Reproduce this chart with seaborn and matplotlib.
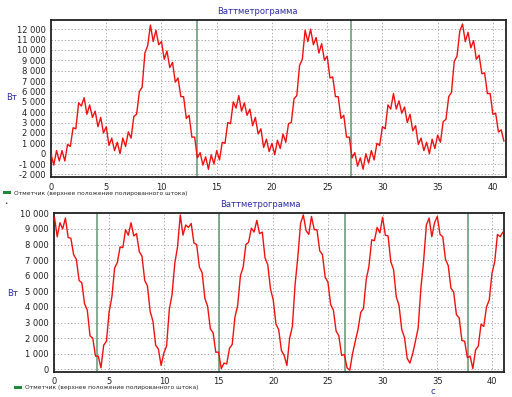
import numpy as np
import pandas as pd
import matplotlib
matplotlib.use("Agg")
import matplotlib.pyplot as plt
from matplotlib.ticker import FuncFormatter
from matplotlib.patches import Patch
import seaborn as sns

# ---------------- data ----------------
sample_step = 0.25  # seconds between samples

top_power = [
    0, -1100, 300, -700, 300, -700, 900, 700, 2500, 2400,
    4900, 4600, 5400, 3800, 4700, 3500, 4100, 2600, 3500, 2000,
    2600, 800, 1500, 300, 1100, 0, 1500, 700, 2100, 1500,
    3600, 3800, 6000, 6400, 9700, 10400, 12400, 10800, 11900, 10500,
    10800, 9100, 9900, 8300, 8800, 6900, 7300, 5500, 5500, 3400,
    3700, 1600, 1600, -400, 100, -1100, -300, -1500, -100, -1000,
    300, -600, 1100, 1000, 3000, 2900, 5000, 4400, 5600, 4100,
    4900, 3700, 4300, 2700, 3500, 1900, 2400, 600, 1400, 200,
    1000, -100, 1300, 500, 1900, 1100, 2900, 3000, 5300, 5600,
    8500, 9100, 11900, 10800, 12000, 10500, 11200, 9700, 10600, 9000,
    9400, 7300, 7400, 5500, 5500, 3400, 3700, 1600, 1600, -400,
    100, -1200, -400, -1500, 0, -900, 300, -600, 1000, 800,
    2600, 2400, 4700, 4300, 5800, 4300, 5100, 3900, 4500, 3000,
    3800, 2200, 2700, 900, 1500, 300, 1100, 0, 1400, 500,
    1800, 1100, 3100, 3300, 5500, 5900, 8900, 9400, 11800, 12500,
    10800, 11700, 10200, 10900, 9100, 9500, 7700, 7800, 5800, 5800,
    3800, 3900, 2100, 2300, 1200,
]

bottom_power = [
    9750, 8500, 9400, 9000, 9700, 8450, 8400, 7350, 7050, 5700,
    5550, 4200, 3800, 2150, 2000, 850, 850, 100, 1550, 1800,
    3700, 4650, 6500, 6850, 7850, 7800, 8950, 8600, 9400, 8550,
    8700, 7550, 7250, 5700, 5350, 3700, 3100, 1550, 1300, 250,
    1050, 1500, 3850, 4800, 6800, 7850, 9900, 8600, 9250, 9100,
    9350, 8100, 8000, 6550, 6200, 4550, 4050, 2600, 2350, 1100,
    1100, 50, 400, 350, 1350, 1600, 3350, 4100, 6000, 6550,
    8000, 8150, 9050, 8800, 9550, 8700, 8800, 7150, 6700, 5150,
    4450, 2900, 2550, 1200, 900, 250, 2000, 2750, 5450, 7200,
    9350, 9900, 8900, 8650, 9800, 8950, 8950, 7600, 7350, 5900,
    5600, 4150, 3800, 2450, 2150, 900, 950, 100, -50, 1000,
    1800, 2550, 3650, 3900, 5750, 6600, 8300, 8250, 9100, 8750,
    9750, 8600, 8550, 6900, 6400, 4650, 4100, 2550, 2050, 700,
    400, 1000, 1800, 2650, 5200, 6950, 9250, 9700, 8500, 9400,
    9800, 8650, 8500, 7050, 6650, 5200, 4950, 3500, 3300, 1850,
    1800, 750, 850, 50, 1250, 1500, 2900, 2750, 4000, 4450,
    6150, 6900, 8650, 8500, 8800,
]

top_marker_times = [13.2, 27.2]
bottom_marker_times = [3.9, 15.0, 26.6, 37.8]

title_text = "Ваттметрограмма"
y_unit = "Вт"
x_unit = "с"
legend_text = "Отметчик (верхнее положение полированного штока)"

top_xticks = [0, 5, 10, 15, 20, 25, 30, 35, 40]
top_yticks = list(range(-2000, 12001, 1000))
bottom_xticks = [0, 5, 10, 15, 20, 25, 30, 35, 40]
bottom_yticks = list(range(0, 10001, 1000))

# ---------------- style ----------------
sns.set_style("white")
plt.rcParams["font.family"] = ["DejaVu Sans"]

LINE_RED = "#f01010"
MARK_GREEN = "#5f9470"
LABEL_BLUE = "#2a2aa8"
GRID_GRAY = "#9a9a9a"

fig = plt.figure(figsize=(5.12, 3.97), dpi=100)
fig.patch.set_facecolor("white")

ax_top = fig.add_axes([0.0996, 0.554, 0.889, 0.396])
ax_bot = fig.add_axes([0.1064, 0.0637, 0.878, 0.4005])


def thousands(v, pos):
    return f"{int(round(v)):,}".replace(",", " ")


def draw_panel(ax, values, marks, xticks, yticks, ylim, xlim):
    df = pd.DataFrame({"t": np.arange(len(values)) * sample_step, "p": values})
    sns.lineplot(data=df, x="t", y="p", ax=ax, color=LINE_RED, lw=1.0,
                 zorder=3)
    for m in marks:
        ax.axvline(m, color=MARK_GREEN, lw=1.1, zorder=2)
    ax.set_xlim(*xlim)
    ax.set_ylim(*ylim)
    ax.set_xticks(xticks)
    ax.set_yticks(yticks)
    ax.yaxis.set_major_formatter(FuncFormatter(thousands))
    ax.grid(True, color=GRID_GRAY, lw=0.6, ls=(0, (1.5, 2.5)), zorder=0)
    ax.set_axisbelow(True)
    ax.tick_params(axis="both", length=0, labelsize=6, pad=4, colors="#222222")
    ax.set_xlabel("")
    ax.set_ylabel("")
    for sp in ax.spines.values():
        sp.set_color("#222222")
        sp.set_linewidth(1.3)
        sp.set_visible(True)


draw_panel(ax_top, top_power, top_marker_times, top_xticks, top_yticks,
           (-2250, 12900), (0, 41.2))
draw_panel(ax_bot, bottom_power, bottom_marker_times, bottom_xticks,
           bottom_yticks, (-150, 10040), (0, 41.1))

# titles
fig.text(0.502, 1 - 11 / 397, title_text, ha="center", va="center",
         fontsize=6, color=LABEL_BLUE)
fig.text(0.508, 1 - 205 / 397, title_text, ha="center", va="center",
         fontsize=6, color=LABEL_BLUE)

# y unit labels
fig.text(12 / 512, 1 - 98 / 397, y_unit, ha="center", va="center",
         fontsize=6, color=LABEL_BLUE)
fig.text(13 / 512, 1 - 293 / 397, y_unit, ha="center", va="center",
         fontsize=6, color=LABEL_BLUE)

# x unit label
fig.text(433 / 512, 1 - 391 / 397, x_unit, ha="center", va="center",
         fontsize=6, color=LABEL_BLUE)

# small marker dot
fig.text(6 / 512, 1 - 203 / 397, "•", ha="center", va="center",
         fontsize=4, color=LABEL_BLUE)

# legends
handle = Patch(facecolor="#1e8a3a", edgecolor="none")
for ax, (lx, ly) in ((ax_top, (3, 193)), (ax_bot, (14, 388))):
    ax.legend([handle], [legend_text], loc="center left",
              bbox_to_anchor=(lx / 512, 1 - ly / 397),
              bbox_transform=fig.transFigure, frameon=False, fontsize=4.3,
              handlelength=1.3, handleheight=0.5, handletextpad=0.6,
              borderpad=0, borderaxespad=0)

fig.savefig("out.png", dpi=100, facecolor="white")
